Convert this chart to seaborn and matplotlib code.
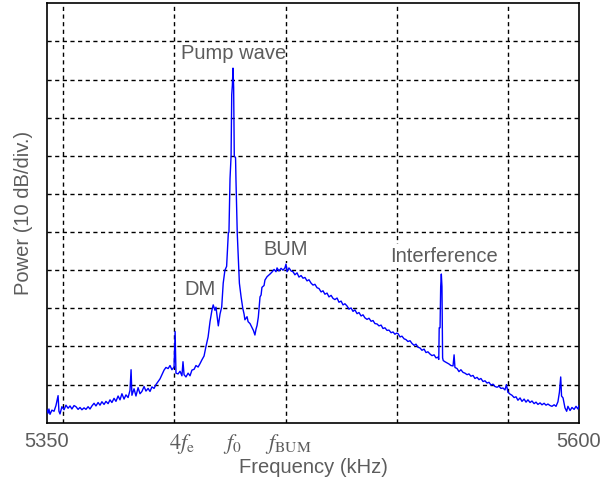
import pandas as pd
import matplotlib
matplotlib.use("Agg")
import matplotlib.pyplot as plt
import seaborn as sns

# Spectrum (frequency in kHz, power in dB above the bottom of the screen)
freq = [
    5350.0, 5350.5, 5350.9, 5351.4, 5352.3, 5353.3, 5354.2, 5355.2, 5355.6, 5356.1,
    5357.0, 5358.0, 5358.9, 5359.9, 5360.8, 5361.7, 5362.7, 5363.6, 5364.6, 5365.5,
    5366.4, 5367.4, 5368.3, 5369.3, 5370.2, 5371.1, 5372.1, 5373.0, 5374.0, 5374.9,
    5375.8, 5376.8, 5377.7, 5378.7, 5379.6, 5380.5, 5381.5, 5382.4, 5383.4, 5384.3,
    5385.2, 5386.2, 5387.1, 5388.1, 5389.0, 5389.5, 5389.9, 5390.9, 5391.8, 5392.8,
    5393.7, 5394.6, 5395.6, 5396.5, 5397.5, 5398.4, 5399.3, 5400.3, 5401.2, 5402.2,
    5403.1, 5404.0, 5405.0, 5405.9, 5406.9, 5407.8, 5408.7, 5409.7, 5410.2, 5410.6,
    5411.6, 5412.5, 5413.4, 5413.9, 5414.4, 5415.3, 5416.3, 5417.2, 5418.1, 5419.1,
    5420.0, 5421.0, 5421.9, 5422.8, 5423.8, 5424.7, 5425.7, 5426.6, 5427.5, 5428.1,
    5428.9, 5429.4, 5430.5, 5431.3, 5432.1, 5432.8, 5433.6, 5434.4, 5435.2, 5435.5,
    5436.0, 5436.5, 5436.8, 5437.1, 5437.4, 5437.7, 5438.0, 5438.6, 5438.8, 5439.4,
    5440.0, 5440.4, 5441.2, 5442.0, 5442.6, 5443.0, 5444.0, 5444.5, 5445.4, 5446.3,
    5447.0, 5447.7, 5448.2, 5448.7, 5449.3, 5450.1, 5450.6, 5451.0, 5452.0, 5452.4,
    5453.4, 5454.8, 5455.7, 5456.7, 5457.6, 5458.1, 5459.0, 5460.0, 5460.9, 5461.8,
    5462.3, 5462.8, 5463.7, 5464.7, 5465.6, 5466.5, 5467.5, 5468.4, 5469.4, 5470.3,
    5471.2, 5472.2, 5473.1, 5474.1, 5475.0, 5475.9, 5476.9, 5477.8, 5478.8, 5479.7,
    5480.6, 5481.6, 5482.5, 5483.5, 5484.4, 5485.3, 5486.3, 5487.2, 5488.2, 5489.1,
    5490.0, 5491.0, 5491.9, 5492.9, 5493.8, 5494.7, 5495.7, 5496.6, 5497.6, 5498.5,
    5499.4, 5500.4, 5501.3, 5502.3, 5503.2, 5504.1, 5505.1, 5506.0, 5507.0, 5507.9,
    5508.8, 5509.8, 5510.7, 5511.7, 5512.6, 5513.5, 5514.3, 5514.9, 5515.9, 5516.8,
    5517.8, 5518.7, 5519.6, 5520.6, 5521.5, 5522.5, 5523.4, 5524.3, 5525.3, 5526.2,
    5527.2, 5528.1, 5529.0, 5530.0, 5530.9, 5531.9, 5532.8, 5533.7, 5534.1, 5534.3,
    5534.7, 5535.0, 5535.3, 5535.6, 5535.9, 5536.2, 5537.0, 5538.0, 5538.9, 5539.8,
    5540.8, 5541.3, 5541.7, 5542.7, 5543.6, 5544.5, 5545.5, 5546.4, 5547.4, 5548.3,
    5549.2, 5550.2, 5551.1, 5552.1, 5553.0, 5553.9, 5554.9, 5555.8, 5556.8, 5557.7,
    5558.6, 5559.6, 5560.5, 5561.5, 5562.4, 5563.3, 5564.3, 5565.2, 5565.9, 5566.6,
    5567.6, 5568.5, 5569.5, 5570.4, 5571.3, 5572.3, 5573.2, 5574.2, 5575.1, 5576.0,
    5577.0, 5577.9, 5578.9, 5579.8, 5580.7, 5581.7, 5582.6, 5583.6, 5584.5, 5585.4,
    5586.4, 5587.3, 5588.3, 5589.2, 5590.1, 5590.8, 5591.4, 5591.8, 5592.5, 5593.4,
    5594.2, 5594.8, 5595.8, 5596.7, 5597.7, 5598.6, 5599.5, 5600.0,
]
power = [
    3.4, 2.5, 3.6, 2.2, 3.3, 3.0, 4.5, 7.1, 3.0, 2.3,
    4.2, 3.4, 4.6, 3.8, 4.4, 3.6, 4.5, 4.2, 3.5, 4.0,
    3.4, 3.9, 3.5, 4.2, 3.6, 4.4, 5.1, 4.4, 5.3, 4.6,
    5.5, 4.8, 5.6, 5.0, 6.0, 5.3, 6.4, 5.6, 7.0, 6.0,
    7.6, 6.2, 7.3, 6.6, 8.5, 13.9, 7.2, 8.9, 7.0, 9.2,
    7.6, 8.2, 9.5, 8.3, 9.0, 8.2, 9.4, 9.0, 10.0, 10.8,
    11.5, 12.6, 13.8, 14.5, 14.2, 15.0, 13.9, 14.6, 23.9, 13.0,
    12.8, 13.5, 12.3, 16.0, 12.6, 12.0, 13.0, 12.3, 13.8, 14.0,
    15.0, 14.6, 15.5, 16.5, 17.5, 20.0, 22.5, 26.5, 29.5, 30.9,
    29.5, 30.3, 25.4, 28.5, 30.4, 36.6, 40.0, 41.0, 49.7, 50.0,
    64.0, 70.0, 86.0, 88.5, 93.0, 88.0, 70.0, 69.5, 63.6, 49.7,
    42.0, 36.6, 33.0, 30.0, 28.5, 27.0, 27.8, 26.5, 26.0, 25.0,
    24.2, 23.0, 24.5, 25.5, 27.7, 33.0, 33.5, 35.5, 36.0, 37.4,
    38.3, 39.0, 39.5, 40.2, 39.6, 40.6, 39.8, 40.5, 40.0, 40.6,
    41.6, 39.6, 40.6, 39.8, 39.6, 38.8, 39.3, 38.2, 38.6, 37.9,
    38.1, 37.2, 37.5, 36.6, 36.1, 36.3, 35.4, 35.2, 34.3, 34.6,
    33.7, 34.0, 33.0, 33.4, 32.6, 32.3, 32.7, 31.6, 31.9, 30.9,
    31.2, 30.6, 29.8, 30.1, 29.2, 29.6, 28.6, 28.9, 28.0, 28.3,
    27.5, 27.1, 27.4, 26.6, 26.8, 26.0, 25.9, 25.4, 25.6, 24.7,
    24.9, 24.2, 24.3, 23.6, 23.8, 23.2, 23.5, 23.4, 22.5, 22.7,
    22.0, 21.8, 21.3, 21.5, 20.8, 20.3, 20.6, 19.8, 19.6, 19.0,
    19.3, 18.4, 18.6, 18.0, 17.6, 17.8, 17.0, 17.2, 16.6, 24.9,
    24.9, 35.7, 39.0, 35.7, 17.0, 16.3, 16.0, 15.7, 15.4, 15.0,
    14.9, 17.8, 14.5, 14.2, 13.4, 13.9, 13.2, 13.0, 12.6, 12.8,
    12.2, 12.4, 11.6, 11.9, 11.3, 11.6, 10.8, 11.0, 10.4, 10.6,
    9.9, 10.1, 9.5, 9.3, 9.6, 9.0, 9.1, 8.6, 10.0, 8.0,
    7.5, 7.2, 6.6, 6.8, 5.9, 6.5, 5.6, 6.2, 5.4, 6.0,
    5.3, 5.7, 5.0, 5.4, 4.8, 5.2, 4.7, 5.1, 4.6, 4.9,
    4.5, 4.3, 4.7, 4.3, 5.5, 8.0, 12.0, 7.0, 6.5, 3.9,
    3.0, 4.3, 3.2, 4.0, 3.5, 4.3, 3.6, 4.5,
]

# analyser screen divisions (10 dB per division vertically)
grid_freq = [5357.7, 5409.9, 5462.1, 5514.3, 5566.4]
grid_power = [10, 20, 30, 40, 50, 60, 70, 80, 90, 100]

tick_freq = [5350, 5413.2, 5437.3, 5463.3, 5600]
tick_labels = ["5350", r"$4f_{\rm e}$", r"$f_0$", r"$f_{\rm BUM}$", "5600"]

note_text = ["Pump wave", "DM", "BUM", "Interference"]
note_freq = [5437.6, 5421.9, 5462.3, 5536.6]
note_power = [95.5, 33.5, 44.0, 42.2]
note_box = [False, False, True, True]

sns.set_theme(style="white")
plt.rcParams["font.family"] = ["Liberation Sans", "DejaVu Sans"]
plt.rcParams["mathtext.fontset"] = "stix"
grey = "#5c5c5c"

fig = plt.figure(figsize=(6.02, 4.79), dpi=100)
ax = fig.add_axes([0.0781, 0.1175, 0.8837, 0.8756])

for gx in grid_freq:
    ax.axvline(gx, color="black", lw=1.0, ls=(0, (3, 2.5)), zorder=1)
for gy in grid_power:
    ax.axhline(gy, color="black", lw=1.0, ls=(0, (3, 2.5)), zorder=1)

df = pd.DataFrame({"freq": freq, "power": power})
sns.lineplot(data=df, x="freq", y="power", color="blue", lw=1.0,
             estimator=None, sort=False, ax=ax, zorder=3)

for t, fx, py, boxed in zip(note_text, note_freq, note_power, note_box):
    kw = {}
    if boxed:
        kw["bbox"] = dict(boxstyle="square,pad=0.12", fc="white", ec="none")
    ax.text(fx, py, t, ha="center", va="baseline", fontsize=14.5,
            color=grey, zorder=5, **kw)

ax.set_xlim(5350, 5600)
ax.set_ylim(0, 110)
ax.set_xticks(tick_freq)
ax.set_xticklabels(tick_labels)
ax.set_yticks([])
ax.tick_params(axis="x", length=0, pad=7, labelsize=14.5, labelcolor=grey)
for i, lab in enumerate(ax.get_xticklabels()):
    if 0 < i < 4:
        lab.set_fontsize(16)
ax.set_xlabel("Frequency (kHz)", fontsize=14.5, color=grey, labelpad=1)
ax.set_ylabel("Power (10 dB/div.)", fontsize=14.5, color=grey, labelpad=10)
for s in ax.spines.values():
    s.set_color("black")
    s.set_linewidth(1.2)

fig.savefig("out.png", dpi=100)
